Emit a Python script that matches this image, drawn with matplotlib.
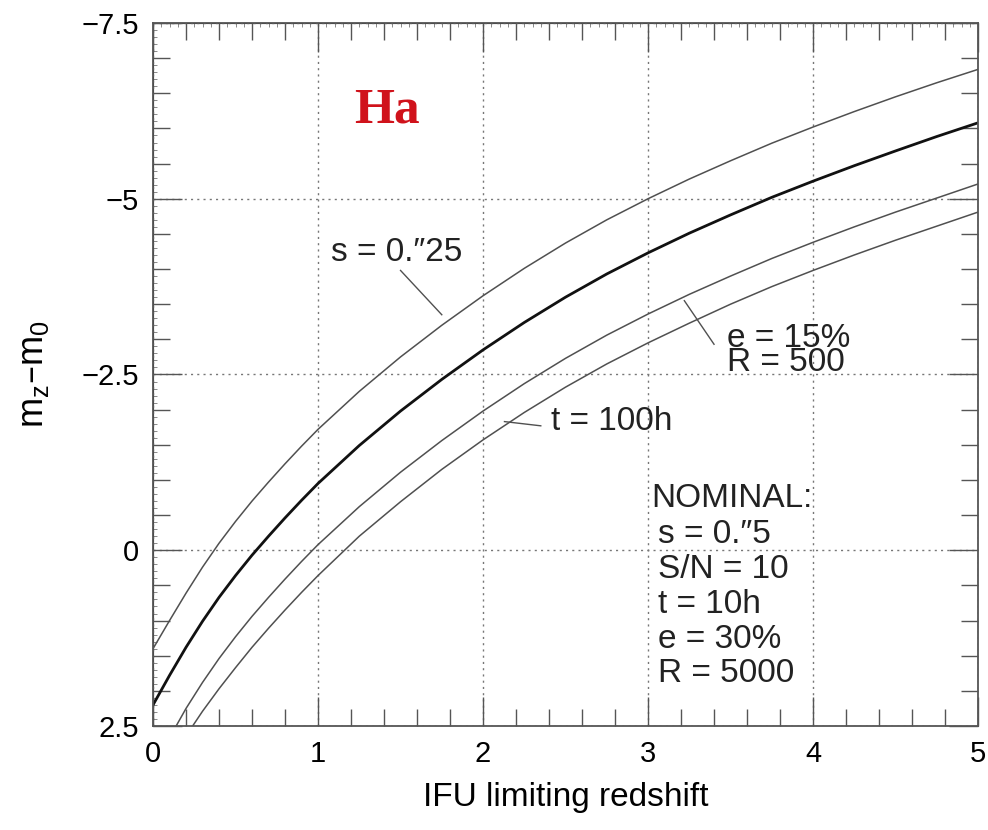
import numpy as np
import matplotlib
matplotlib.use('Agg')
import matplotlib.pyplot as plt
from matplotlib.ticker import MultipleLocator

plt.rcParams['font.family'] = ['Liberation Sans', 'DejaVu Sans']
plt.rcParams['mathtext.default'] = 'regular'

# limiting magnitude offset vs redshift, read per curve
z_nominal = [0.0, 0.1, 0.2, 0.3, 0.4, 0.5, 0.6, 0.7, 0.8, 0.9, 1.0, 1.25, 1.5, 1.75, 2.0,
             2.25, 2.5, 2.75, 3.0, 3.25, 3.5, 3.75, 4.0, 4.25, 4.5, 4.75, 5.0]
m_nominal = [2.2, 1.78, 1.38, 1.01, 0.67, 0.36, 0.07, -0.2, -0.46, -0.71, -0.95, -1.49, -1.98, -2.43, -2.85,
             -3.24, -3.6, -3.93, -4.23, -4.51, -4.77, -5.02, -5.25, -5.47, -5.68, -5.885, -6.08]

z_seeing = [0.0, 0.1, 0.2, 0.3, 0.4, 0.5, 0.6, 0.7, 0.8, 0.9, 1.0, 1.25, 1.5, 1.75, 2.0,
            2.25, 2.5, 2.75, 3.0, 3.25, 3.5, 3.75, 4.0, 4.25, 4.5, 4.75, 5.0]
m_seeing = [1.4, 1.0, 0.61, 0.24, -0.1, -0.41, -0.7, -0.97, -1.23, -1.48, -1.72, -2.26, -2.75, -3.2, -3.62,
            -4.01, -4.37, -4.7, -5.0, -5.28, -5.54, -5.79, -6.02, -6.24, -6.45, -6.65, -6.84]

z_eff = [0.14, 0.2, 0.3, 0.4, 0.5, 0.6, 0.7, 0.8, 0.9, 1.0, 1.25, 1.5, 1.75, 2.0,
         2.25, 2.5, 2.75, 3.0, 3.25, 3.5, 3.75, 4.0, 4.25, 4.5, 4.75, 5.0]
m_eff = [2.5, 2.25, 1.88, 1.54, 1.23, 0.94, 0.67, 0.41, 0.16, -0.08, -0.62, -1.11, -1.56, -1.98,
         -2.37, -2.73, -3.06, -3.36, -3.64, -3.9, -4.15, -4.38, -4.6, -4.81, -5.01, -5.21]

z_time = [0.24, 0.3, 0.4, 0.5, 0.6, 0.7, 0.8, 0.9, 1.0, 1.25, 1.5, 1.75, 2.0,
          2.25, 2.5, 2.75, 3.0, 3.25, 3.5, 3.75, 4.0, 4.25, 4.5, 4.75, 5.0]
m_time = [2.5, 2.29, 1.97, 1.67, 1.38, 1.11, 0.85, 0.6, 0.36, -0.2, -0.69, -1.15, -1.57,
          -1.96, -2.32, -2.65, -2.95, -3.23, -3.5, -3.75, -3.98, -4.2, -4.41, -4.61, -4.81]

yticks = [-7.5, -5, -2.5, 0, 2.5]
ytick_labels = ['\u22127.5', '\u22125', '\u22122.5', '0', '2.5']
nominal_lines = ['s = 0.\u20335', 'S/N = 10', 't = 10h', 'e = 30%', 'R = 5000']

fig = plt.figure(figsize=(9.88, 8.30), dpi=100)
ax = fig.add_axes([0.1549, 0.1253, 0.8350, 0.8470])

thin = dict(color='#505050', lw=1.1)
ax.plot(z_seeing, m_seeing, **thin)
ax.plot(z_eff, m_eff, **thin)
ax.plot(z_time, m_time, **thin)
ax.plot(z_nominal, m_nominal, color='#111111', lw=2.0)

ax.set_xlim(0, 5)
ax.set_ylim(2.5, -7.5)
ax.set_yticks(yticks)
ax.set_yticklabels(ytick_labels)
ax.xaxis.set_major_locator(MultipleLocator(1))
ax.xaxis.set_minor_locator(MultipleLocator(0.2))
ax.yaxis.set_minor_locator(MultipleLocator(0.5))
ax.grid(True, which='major', color='#777777', ls=(0, (1.5, 3.0)), lw=1.0)

ax.tick_params(which='both', direction='in', top=True, right=True, width=1.0, color='#555555')
ax.tick_params(which='major', length=21, labelsize=21, pad=10)
ax.tick_params(which='minor', length=12)
for sp in ax.spines.values():
    sp.set_linewidth(1.3)
    sp.set_color('#555555')

# fine hairline ticks along the top and left edges
top = ax.secondary_xaxis('top')
top.xaxis.set_major_locator(MultipleLocator(0.05))
top.tick_params(direction='in', length=3, width=0.6, color='#777777', labeltop=False)
left = ax.secondary_yaxis('left')
left.yaxis.set_major_locator(MultipleLocator(0.1))
left.tick_params(direction='in', length=3, width=0.6, color='#777777', labelleft=False)

ax.set_xlabel('IFU limiting redshift', fontsize=24, labelpad=10)
ax.set_ylabel('m$_z$\u2013m$_0$', fontsize=26, labelpad=22)

ax.text(1.42, -6.26, 'Ha', family=['Liberation Serif', 'DejaVu Serif'], fontweight='bold',
        color='#d0121b', fontsize=37, ha='center', va='center')

lab = dict(fontsize=24, color='#222222')
ax.text(1.08, -4.24, 's = 0.\u203325', ha='left', va='center', **lab)
ax.plot([1.5, 1.75], [-3.98, -3.35], color='#505050', lw=1.0)

ax.text(3.48, -2.84, 'e = 15%\nR = 500', ha='left', va='center', linespacing=0.7, **lab)
ax.plot([3.22, 3.40], [-3.55, -2.93], color='#505050', lw=1.0)

ax.text(2.41, -1.83, 't = 100h', ha='left', va='center', **lab)
ax.plot([2.13, 2.35], [-1.83, -1.77], color='#505050', lw=1.0)

ax.text(3.02, -0.74, 'NOMINAL:', ha='left', va='center', **lab)
for i, line in enumerate(nominal_lines):
    ax.text(3.06, -0.22 + 0.495 * i, line, ha='left', va='center', **lab)

fig.savefig('out.png', dpi=100)
